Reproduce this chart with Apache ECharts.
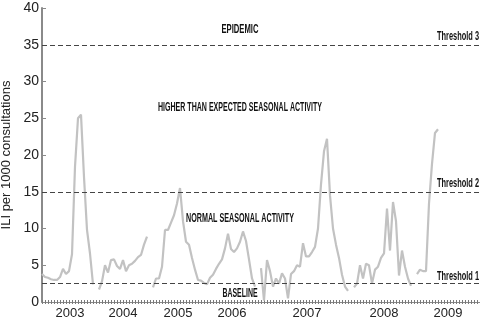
<!DOCTYPE html>
<html><head><meta charset="utf-8">
<script src="https://cdn.jsdelivr.net/npm/echarts@6.0.0/dist/echarts.min.js"></script>
<style>html,body{margin:0;padding:0;background:#fff}#c{width:480px;height:323px}</style>
</head><body><div id="c"></div>
<script>
// Weekly ILI rate per 1000 consultations (null = no report)
const iliValues = [
3.8,3.4,3.3,3.1,3.0,3.0,3.4,4.5,3.8,4.2,
6.5,18.4,25.0,25.5,17.0,9.8,6.6,2.4,null,1.7,
2.8,5.0,4.0,5.7,5.8,4.9,4.5,5.7,4.2,5.0,
5.2,5.6,6.1,6.4,7.8,8.9,null,2.0,3.2,3.2,
4.8,9.8,9.8,10.8,11.8,13.4,15.5,11.0,8.2,7.8,
6.0,4.4,3.0,2.9,2.6,2.4,3.3,3.7,4.5,5.2,
5.8,7.3,9.3,7.2,6.8,7.3,8.2,9.6,8.3,5.8,
3.2,2.1,null,4.6,0.2,5.7,4.2,2.1,3.2,2.5,
3.9,3.2,0.5,3.8,4.2,5.0,4.8,8.0,6.2,6.2,
6.8,7.5,10.0,16.0,20.5,22.2,14.5,10.0,7.8,6.0,
3.7,2.1,1.5,null,2.0,2.5,5.0,3.2,5.2,5.0,
2.5,4.4,4.8,6.0,6.6,12.7,7.0,13.6,11.0,3.6,
7.0,4.8,3.2,2.2,null,3.8,4.4,4.2,4.2,13.4,
18.8,23.0,23.5
];
const weekCount = 146;
const yearLabels = ['2003','2004','2005','2006','2007','2008','2009'];
const yearPos = [9.3, 27, 45.3, 63.3, 88.3, 114, 135.3];
const thresholds = [2.5, 15, 35];
const thresholdNames = ['Threshold 1','Threshold 2','Threshold 3'];
const zoneLabels = ['EPIDEMIC','HIGHER THAN EXPECTED SEASONAL ACTIVITY','NORMAL SEASONAL ACTIVITY','BASELINE'];
const zoneLevels = [37, 26.4, 11.3, 1.15];
const zoneCenterWeek = 66;

const seriesData = iliValues.map((v,i)=>[i, v]);

const chart = echarts.init(document.getElementById('c'), null, {renderer:'canvas'});
const FONT = '"Liberation Sans", Arial, Helvetica, sans-serif';
chart.setOption({
  animation:false,
  backgroundColor:'#fff',
  grid:{left:42,right:0,top:8,bottom:21,containLabel:false,outerBoundsMode:'none'},
  xAxis:[{
    type:'value',min:0,max:weekCount,interval:1,
    axisLine:{show:true,lineStyle:{color:'#8a8a8a',width:1}},
    axisTick:{show:true,length:2,lineStyle:{color:'#7a7a7a',width:1}},
    axisLabel:{show:true,customValues:yearPos,
      formatter:(v)=>{const k=yearPos.indexOf(v);return k>=0?yearLabels[k]:'';},
      fontSize:13,color:'#222',fontFamily:FONT,margin:5},
    splitLine:{show:false}
  },{
    type:'value',min:0,max:weekCount,interval:1,position:'bottom',
    axisLine:{show:false},
    axisTick:{show:true,inside:true,length:2,lineStyle:{color:'#7a7a7a',width:1}},
    axisLabel:{show:false},splitLine:{show:false}
  }],
  yAxis:{
    type:'value',min:0,max:40,interval:5,
    axisLine:{show:true,lineStyle:{color:'#8a8a8a',width:2}},
    axisTick:{show:true,inside:true,length:4,lineStyle:{color:'#8a8a8a',width:1}},
    axisLabel:{fontSize:14,color:'#222',fontFamily:FONT,margin:3},
    splitLine:{show:false},
    name:'ILI per 1000 consultations',nameLocation:'middle',nameGap:22,
    nameTextStyle:{fontSize:13,color:'#222',fontFamily:FONT}
  },
  series:[{
    type:'line',data:seriesData,showSymbol:false,connectNulls:false,
    lineStyle:{color:'#c2c2c2',width:2.2},
    silent:true,
    markLine:{silent:true,symbol:['none','none'],label:{show:false},
      lineStyle:{color:'#444',type:[5,3],width:1},
      data:thresholds.map(t=>({yAxis:t}))}
  }]
});

// annotations
const cv = document.createElement('canvas').getContext('2d');
function fit(text, font, target){ cv.font = font; return target / cv.measureText(text).width; }
const toPx = (x,y)=>chart.convertToPixel({seriesIndex:0},[x,y]);
const zoneFont = 'bold 12px "Liberation Sans", Arial, sans-serif';
const zoneWidths = [37,164,108,35];
const thrFont = 'bold 13px "Liberation Sans", Arial, sans-serif';
const g = [];
zoneLabels.forEach((t,i)=>{
  const p = toPx(zoneCenterWeek, zoneLevels[i]);
  g.push({type:'text',x:p[0],y:p[1],scaleX:fit(t,zoneFont,zoneWidths[i]),silent:true,
    style:{text:t,font:zoneFont,fill:'#111',align:'center',verticalAlign:'middle',textAlign:'center',textVerticalAlign:'middle'}});
});
thresholdNames.forEach((t,i)=>{
  const p = toPx(weekCount, thresholds[i]);
  g.push({type:'text',x:p[0]-1,y:p[1]-(i===0?7:8),scaleX:fit(t,thrFont,42),silent:true,
    style:{text:t,font:thrFont,fill:'#111',align:'right',verticalAlign:'middle',textAlign:'right',textVerticalAlign:'middle'}});
});
chart.setOption({graphic:g});
</script></body></html>
